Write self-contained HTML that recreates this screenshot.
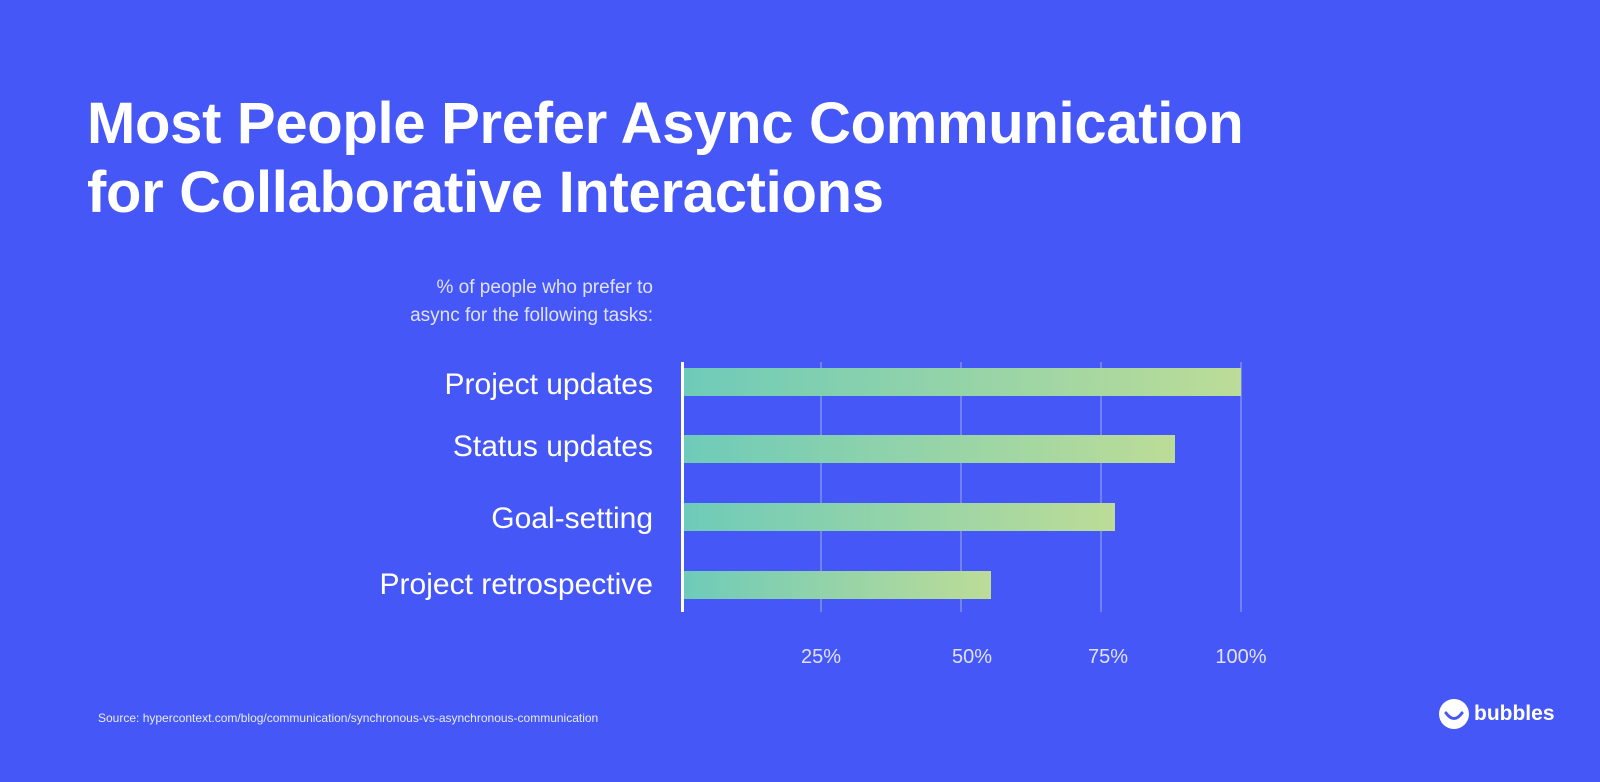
<!DOCTYPE html>
<html><head><style>
body{margin:0;width:1600px;height:782px;background:#4557f6;font-family:"Liberation Sans",sans-serif;position:relative;overflow:hidden;color:#fff}
.t{position:absolute;left:87px;top:89px;font-size:58px;font-weight:bold;line-height:69px;letter-spacing:-0.3px;white-space:nowrap}
.sub{position:absolute;right:947px;top:274px;text-align:right;font-size:19px;line-height:28px;color:#dfe2ff}
.lab{position:absolute;right:947px;font-size:30px;line-height:34px;text-align:right;white-space:nowrap}
.grid{position:absolute;top:362px;height:250px;width:2px;background:rgba(255,255,255,0.25)}
.bar{position:absolute;left:684px;height:28px;background:linear-gradient(90deg,#6ecbb9,#bcdc97)}
.tick{position:absolute;top:646px;font-size:20px;color:#dfe2ff;transform:translateX(-50%)}
.src{position:absolute;left:98px;top:711px;font-size:12px;color:#e8eaff}
</style></head><body>
<div class="t">Most People Prefer Async Communication<br>for Collaborative Interactions</div>
<div class="sub">% of people who prefer to<br>async for the following tasks:</div>
<div class="lab" style="top:368px">Project updates</div>
<div class="lab" style="top:430px">Status updates</div>
<div class="lab" style="top:502px">Goal-setting</div>
<div class="lab" style="top:568px">Project retrospective</div>
<div class="grid" style="left:820px"></div>
<div class="grid" style="left:960px"></div>
<div class="grid" style="left:1100px"></div>
<div class="grid" style="left:1240px"></div>
<div class="bar" style="top:368px;width:557px"></div>
<div class="bar" style="top:435px;width:491px"></div>
<div class="bar" style="top:503px;width:431px"></div>
<div class="bar" style="top:571px;width:307px"></div>
<div style="position:absolute;left:681px;top:362px;width:3px;height:250px;background:#fff"></div>
<div class="tick" style="left:821px">25%</div>
<div class="tick" style="left:972px">50%</div>
<div class="tick" style="left:1108px">75%</div>
<div class="tick" style="left:1241px">100%</div>
<div class="src">Source: hypercontext.com/blog/communication/synchronous-vs-asynchronous-communication</div>
<svg style="position:absolute;left:1439px;top:699px" width="30" height="30"><circle cx="15" cy="15" r="15" fill="#fff"/><path d="M7 14 Q15 25 23 14" stroke="#4557f6" stroke-width="3" fill="none" stroke-linecap="round"/></svg>
<div style="position:absolute;left:1474px;top:702px;font-size:21px;font-weight:bold">bubbles</div>
</body></html>
